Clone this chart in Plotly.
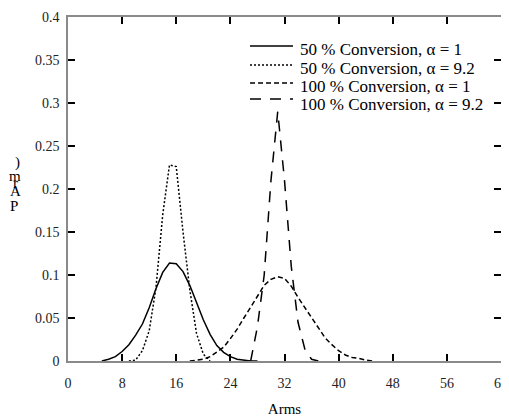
import plotly.graph_objects as go

# Data
x_50_a1 = list(range(5, 29))
y_50_a1 = [0.0, 0.002, 0.005, 0.011, 0.019, 0.030, 0.043, 0.062, 0.084, 0.103,
           0.114, 0.113, 0.104, 0.088, 0.068, 0.048, 0.031, 0.018, 0.010, 0.005,
           0.002, 0.001, 0.0, 0.0]

x_50_a92 = list(range(9, 22))
y_50_a92 = [0.0, 0.001, 0.012, 0.035, 0.085, 0.17, 0.228, 0.226, 0.15, 0.083,
            0.032, 0.008, 0.0]

x_100_a1 = list(range(18, 46))
y_100_a1 = [0.0, 0.001, 0.002, 0.005, 0.010, 0.016, 0.026, 0.037, 0.050, 0.063,
            0.076, 0.088, 0.095, 0.098, 0.096, 0.087, 0.074, 0.062, 0.050, 0.038,
            0.027, 0.019, 0.012, 0.007, 0.004, 0.003, 0.001, 0.0]

x_100_a92 = list(range(27, 38))
y_100_a92 = [0.0, 0.04, 0.10, 0.21, 0.29, 0.21, 0.11, 0.045, 0.014, 0.002, 0.0]

names = ["50 % Conversion, \u03b1 = 1", "50 % Conversion, \u03b1 = 9.2",
         "100 % Conversion, \u03b1 = 1", "100 % Conversion, \u03b1 = 9.2"]

x_ticks = [0, 8, 16, 24, 32, 40, 48, 56, 64]
y_ticks = [0, 0.05, 0.1, 0.15, 0.2, 0.25, 0.3, 0.35, 0.4]
y_tick_text = ["0", "0.05", "0.1", "0.15", "0.2", "0.25", "0.3", "0.35", "0.4"]

FONT = "Liberation Serif"
OFF = 8                                 # page body margin
W, H = 509 - OFF, 417 - OFF
L, R, T, B = 68 - OFF, 501 - OFF, 17 - OFF, 361 - OFF   # plot-area box (figure px)
PW, PH = R - L, B - T

fig = go.Figure()
dashes = ["solid", "2px,2px", "5px,3px", "11px,9px"]
series = [(x_50_a1, y_50_a1), (x_50_a92, y_50_a92),
          (x_100_a1, y_100_a1), (x_100_a92, y_100_a92)]
for (xs, ys), dash, nm in zip(series, dashes, names):
    fig.add_trace(go.Scatter(x=xs, y=ys, mode="lines", name=nm, showlegend=False,
                             line=dict(color="black", width=1.5, dash=dash)))

axis_common = dict(showgrid=False, zeroline=False, showline=True, automargin=False,
                   linecolor="#8a8a8a", linewidth=1.5, mirror="ticks",
                   ticks="inside", ticklen=7, tickcolor="black", tickwidth=1.5,
                   tickfont=dict(family=FONT, size=14, color="#222"))

fig.update_layout(
    width=W, height=H,
    margin=dict(l=L, r=W - R, t=T, b=H - B, autoexpand=False),
    paper_bgcolor="white", plot_bgcolor="white",
    font=dict(family=FONT, color="black"),
    xaxis=dict(range=[0, 64], tickvals=x_ticks, ticklabelstandoff=8,
               ticklabeloverflow="allow",
               title=dict(text="Arms", font=dict(family=FONT, size=15), standoff=15),
               **axis_common),
    yaxis=dict(range=[0, 0.4], tickvals=y_ticks, ticktext=y_tick_text,
               ticklabelstandoff=4, **axis_common),
    showlegend=False,
)

def px_x(p):
    return (p - OFF - L) / PW

def px_y(p):
    return (B - (p - OFF)) / PH

# Legend drawn as key lines + labels (positions in page pixels)
line_rows = [46, 65, 83, 99]
text_rows = [50, 68, 86, 104]
for nm, dash, ly, ty in zip(names, dashes, line_rows, text_rows):
    fig.add_shape(type="line", xref="paper", yref="paper",
                  x0=px_x(250), x1=px_x(293), y0=px_y(ly), y1=px_y(ly),
                  line=dict(color="black", width=1.5, dash=dash))
    fig.add_annotation(text=nm, xref="paper", yref="paper",
                       x=px_x(298), y=px_y(ty),
                       showarrow=False, xanchor="left", yanchor="middle",
                       font=dict(family=FONT, size=17, color="black"))

# y-axis label as rendered in the reference (stacked glyphs)
chars = [(")", 162, 17), ("m", 176, 15), ("r", 183, 15), ("A", 191, 15), ("P", 206, 14)]
for ch, py, px in chars:
    fig.add_annotation(text=ch, xref="paper", yref="paper",
                       x=px_x(px), y=px_y(py),
                       showarrow=False, xanchor="center", yanchor="middle",
                       font=dict(family=FONT, size=15, color="black"))

fig.write_html("out.html")
